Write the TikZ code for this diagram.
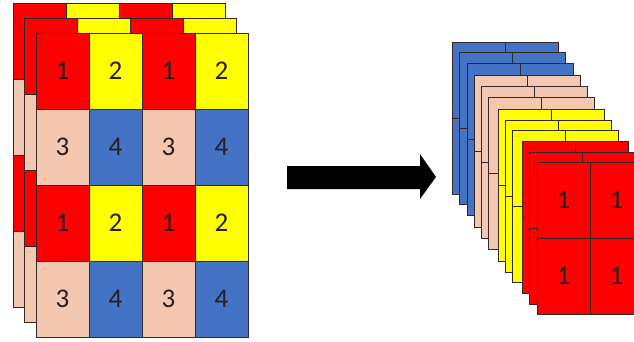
\documentclass[tikz,border=0pt]{standalone}
\usepackage{fontspec}
\setmainfont{Carlito}
\definecolor{cred}{RGB}{255,0,0}
\definecolor{cyel}{RGB}{255,255,0}
\definecolor{cpeach}{RGB}{244,200,176}
\definecolor{cblue}{RGB}{68,114,196}
\definecolor{cline}{RGB}{50,40,40}
\definecolor{ctext}{RGB}{40,30,35}
\tikzset{
  cellbox/.style={draw=cline, line width=0.9pt},
  digit/.style={text=ctext, font=\fontsize{27}{27}\selectfont, inner sep=0pt},
}
\begin{document}
\begin{tikzpicture}[x=1pt, y=-1pt]
\useasboundingbox (0,0) rectangle (634,342);
\clip (0,0) rectangle (634,342);
\def\cw{53}
\def\ch{76}
% left: three stacked 4x4 layers with the 1-2 / 3-4 tiling
\foreach \ox/\oy/\k in {13/3/0, 24.5/18/1, 36/33/2} {
  \foreach \r/\ta/\tb/\na/\nb in {0/cred/cyel/1/2, 1/cpeach/cblue/3/4, 2/cred/cyel/1/2, 3/cpeach/cblue/3/4} {
    \foreach \c/\col/\n in {0/\ta/\na, 1/\tb/\nb, 2/\ta/\na, 3/\tb/\nb} {
      \fill[\col] (\ox+\c*\cw, \oy+\r*\ch) rectangle ++(\cw,\ch);
      \draw[cellbox] (\ox+\c*\cw, \oy+\r*\ch) rectangle ++(\cw,\ch);
      \ifnum\k=2
        \node[digit] (L-\r-\c) at (\ox+\c*\cw+0.5*\cw, \oy+\r*\ch+0.5*\ch) {\n};
      \fi
    }
  }
}
% arrow between the two stacks
\coordinate (a0) at (287,166);
\coordinate (a1) at (420,166);
\coordinate (a2) at (420,154);
\coordinate (tip) at (436,177);
\coordinate (a3) at (420,199);
\coordinate (a4) at (420,189);
\coordinate (a5) at (287,189);
\fill[black] (a0) -- (a1) -- (a2) -- (tip) -- (a3) -- (a4) -- (a5) -- cycle;
% right: twelve single-colour 2x2 layers
\foreach \ox/\oy/\col/\k in {452/42/cblue/0, 459.5/52.5/cblue/1, 467/63/cblue/2,
    474.5/75.5/cpeach/3, 481.5/86/cpeach/4, 488.5/97/cpeach/5,
    498/109.5/cyel/6, 505/120/cyel/7, 512/130.5/cyel/8,
    522/141.5/cred/9, 529.5/152/cred/10, 537/162/cred/11} {
  \foreach \r in {0,1} {
    \foreach \c in {0,1} {
      \fill[\col] (\ox+\c*\cw, \oy+\r*\ch) rectangle ++(\cw,\ch);
      \draw[cellbox] (\ox+\c*\cw, \oy+\r*\ch) rectangle ++(\cw,\ch);
      \ifnum\k=11
        \node[digit] (R-\r-\c) at (\ox+\c*\cw+0.5*\cw, \oy+\r*\ch+0.5*\ch) {1};
      \fi
    }
  }
}
\end{tikzpicture}
\end{document}
